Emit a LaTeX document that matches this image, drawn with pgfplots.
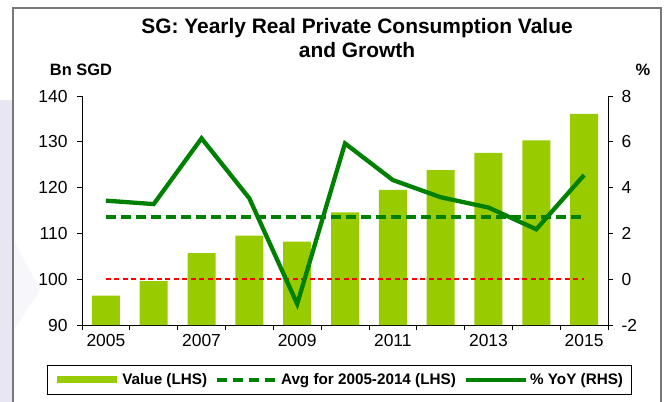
\documentclass[border=0pt]{standalone}
\usepackage{pgfplots}
\pgfplotsset{compat=1.18}
\usepackage{fontspec}
\setmainfont{Liberation Sans}
\definecolor{barg}{RGB}{153,204,0}
\definecolor{dkg}{RGB}{0,128,0}
\definecolor{frame}{RGB}{120,120,120}
\definecolor{lav}{RGB}{232,230,242}
\definecolor{lav2}{RGB}{247,246,251}
\begin{document}
\begin{tikzpicture}
\useasboundingbox (0,0) rectangle (667bp,-402bp);
\fill[lav] (0,-100bp) rectangle (12bp,-402bp);
\fill[lav2] (14bp,-240bp) -- (40bp,-290bp) -- (14bp,-330bp) -- cycle;
\draw[frame, line width=1.3bp] (13bp,-402bp) -- (13bp,-8bp) -- (661bp,-8bp) -- (661bp,-402bp);
\node[align=center, font=\bfseries\fontsize{21}{23.5}\selectfont] at (357bp,-38bp) {SG: Yearly Real Private Consumption Value\\and Growth};
\node[font=\bfseries\fontsize{16.5}{16.5}\selectfont] at (81bp,-70bp) {Bn SGD};
\node[font=\bfseries\fontsize{16.5}{16.5}\selectfont] at (643bp,-70bp) {\%};
\pgfplotsset{
  myax/.style={at={(82bp,-325bp)}, anchor=south west, scale only axis,
    width=526bp, height=229bp, xmin=2004.5, xmax=2015.5,
    tick align=outside, major tick length=5bp, minor tick length=5bp,
    tick style={black, line width=0.8bp}, axis line style={black, line width=0.8bp},
    /pgf/number format/assume math mode=true,
    /pgf/number format/1000 sep={},
    tick label style={font=\fontsize{17.5}{17.5}\selectfont},
  }
}
\begin{axis}[myax, ymin=90, ymax=140,
  axis x line*=bottom, axis y line*=left,
  ytick={90,100,...,140},
  xtick={2005,2007,...,2015},
  minor xtick={2004.5,2005.5,...,2015.5},
  major x tick style={draw=none},
  xticklabel style={yshift=-1bp},
  yticklabel style={xshift=-6bp},
]
\addplot[ybar, bar width=28bp, bar shift=0pt, fill=barg, draw=none] coordinates {
(2005,96.4) (2006,99.6) (2007,105.7) (2008,109.5) (2009,108.2) (2010,114.6)
(2011,119.5) (2012,123.8) (2013,127.6) (2014,130.3) (2015,136.1)};
\addplot[red, line width=1.5bp, dash pattern=on 5bp off 3.5bp] coordinates {(2005,100) (2015,100)};
\addplot[dkg, line width=4bp, dash pattern=on 10bp off 5bp] coordinates {(2005,113.65) (2015,113.65)};
\end{axis}
\begin{axis}[myax, ymin=-2, ymax=8,
  axis y line*=right, axis x line=none,
  ytick={-2,0,...,8},
  yticklabel style={xshift=5bp},
  legend style={at={(0.489,-0.24)}, anchor=center, draw=black, line width=0.8bp,
    font=\bfseries\fontsize{15.3}{17}\selectfont, legend columns=3,
    inner xsep=6bp, inner ysep=6bp,
    /tikz/every even column/.append style={column sep=6bp}},
  legend image code/.code={\draw[#1] (0bp,0bp) -- (60bp,0bp);},
]
\addlegendimage{barg, line width=7bp}
\addlegendentry{Value (LHS)}
\addlegendimage{dkg, line width=4bp, dash pattern=on 10bp off 6bp}
\addlegendentry{Avg for 2005-2014 (LHS)}
\addplot[dkg, line width=4.3bp] coordinates {
(2005,3.43) (2006,3.28) (2007,6.15) (2008,3.53) (2009,-1.08) (2010,5.93)
(2011,4.33) (2012,3.58) (2013,3.13) (2014,2.18) (2015,4.55)};
\addlegendentry{\% YoY (RHS)}
\end{axis}
\end{tikzpicture}
\end{document}
